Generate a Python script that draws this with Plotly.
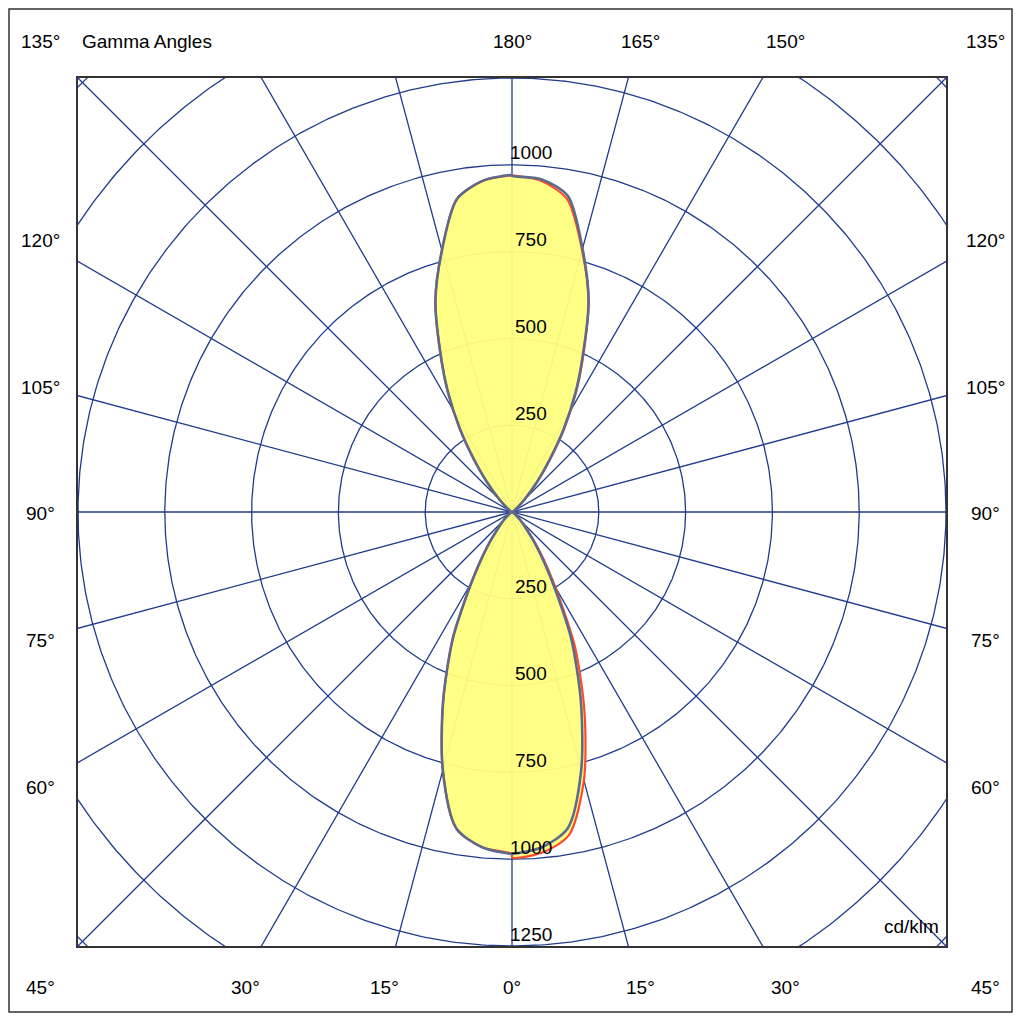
import numpy as np
import plotly.graph_objects as go

# gamma angles (deg from nadir) and intensities (cd/klm)
gamma = [0, 5, 10, 15, 20, 25, 28, 32, 36, 40, 45, 50, 60, 70, 90]
# lower lobe (gamma 0..90), grey C90/C270 and red C0/C180
low_grey = [985, 970, 925, 770, 580, 405, 290, 185, 115, 65, 35, 18, 6, 2, 0]
low_red = [995, 985, 945, 800, 610, 430, 310, 200, 125, 70, 38, 20, 6, 2, 0]
# upper lobe (gamma 180 downwards)
up_grey = [968, 962, 925, 785, 645, 475, 390, 280, 180, 110, 50, 20, 5, 2, 0]
up_red = [970, 958, 915, 780, 645, 480, 395, 285, 185, 112, 52, 20, 5, 2, 0]

rings = [250, 500, 750, 1000, 1250, 1500, 1750]
ring_labels_up = [250, 500, 750, 1000]
ring_labels_down = [250, 500, 750, 1000, 1250]
spokes = list(range(0, 180, 15))

S = 1250 / 434.0  # data units per pixel
OFF = 8  # page body offset
W, H = 1015, 1016
L, T = 70, 70
PW = 868


def lobe(vals_left, vals_right, up):
    g = np.radians(gamma)
    sgn = 1 if up else -1
    xl = -np.array(vals_left) * np.sin(g)
    yl = sgn * np.array(vals_left) * np.cos(g)
    xr = np.array(vals_right) * np.sin(g)
    yr = sgn * np.array(vals_right) * np.cos(g)
    x = np.concatenate([xl[::-1], xr])
    y = np.concatenate([yl[::-1], yr])
    return x, y


fig = go.Figure()
grid = "#1f3c8c"
t = np.linspace(0, 2 * np.pi, 721)
for r in rings:
    fig.add_trace(go.Scatter(x=r * np.cos(t), y=r * np.sin(t), mode="lines",
                             line=dict(color=grid, width=1.3), hoverinfo="skip"))
for a in spokes:
    ar = np.radians(a)
    R = 2000
    fig.add_trace(go.Scatter(x=[-R * np.sin(ar), R * np.sin(ar)], y=[-R * np.cos(ar), R * np.cos(ar)],
                             mode="lines", line=dict(color=grid, width=1.3), hoverinfo="skip"))

for up, grey, red in [(False, low_grey, low_red), (True, up_grey, up_red)]:
    if up:
        xg, yg = lobe(red, grey, up)
        xr, yr = lobe(red, red, up)
    else:
        xg, yg = lobe(grey, grey, up)
        xr, yr = lobe(grey, red, up)
    fig.add_trace(go.Scatter(x=xr, y=yr, mode="lines", fill="toself", fillcolor="rgba(255,255,128,0.95)",
                             line=dict(color="#ff4a2a", width=2.2, shape="spline", smoothing=0.8),
                             hoverinfo="skip"))
    fig.add_trace(go.Scatter(x=xg, y=yg, mode="lines",
                             line=dict(color="#5d6a8c", width=2.6, shape="spline", smoothing=0.8),
                             hoverinfo="skip"))

ann = []
f = dict(family="Liberation Sans, Arial", size=19, color="black")
for v in ring_labels_up:
    ann.append(dict(x=19 * S, y=v + 12 * S, text=str(v), xanchor="center", yanchor="middle", showarrow=False, font=f))
for v in ring_labels_down:
    ann.append(dict(x=19 * S, y=-v + 12 * S, text=str(v), xanchor="center", yanchor="middle", showarrow=False, font=f))


def px(xp, yp):
    # screen pixel -> paper coords
    return (xp - OFF - L) / PW, 1 - (yp - OFF - T) / PW


labels = [("135°", 40, 41), ("180°", 512, 41), ("165°", 640, 41), ("150°", 785, 41), ("135°", 985, 41),
          ("120°", 40, 240), ("105°", 40, 387), ("90°", 40, 513), ("75°", 40, 640), ("60°", 40, 787),
          ("120°", 985, 240), ("105°", 985, 387), ("90°", 985, 513), ("75°", 985, 640), ("60°", 985, 787),
          ("45°", 40, 987), ("30°", 245, 987), ("15°", 384, 987), ("0°", 512, 987), ("15°", 640, 987),
          ("30°", 785, 987), ("45°", 985, 987)]
for txt, xp, yp in labels:
    x, y = px(xp, yp)
    ann.append(dict(x=x, y=y, xref="paper", yref="paper", text=txt, xanchor="center", yanchor="middle",
                    showarrow=False, font=f))
x, y = px(80, 41)
ann.append(dict(x=x, y=y, xref="paper", yref="paper", text="Gamma Angles", xanchor="left", yanchor="middle",
                showarrow=False, font=f))
x, y = px(941, 926)
ann.append(dict(x=x, y=y, xref="paper", yref="paper", text="cd/klm", xanchor="right", yanchor="middle",
                showarrow=False, font=f))

fx0, fy0 = px(9, 1012)
fx1, fy1 = px(1012, 9)
fig.update_layout(
    width=W, height=H, showlegend=False, plot_bgcolor="white", paper_bgcolor="white",
    margin=dict(l=L, r=W - L - PW, t=T, b=H - T - PW), annotations=ann,
    xaxis=dict(range=[-1250, 1250], showgrid=False, zeroline=False, showticklabels=False,
               showline=True, mirror=True, linecolor="#333", linewidth=1.5, fixedrange=True),
    yaxis=dict(range=[-1250, 1250], showgrid=False, zeroline=False, showticklabels=False,
               showline=True, mirror=True, linecolor="#333", linewidth=1.5, fixedrange=True),
    shapes=[dict(type="rect", xref="paper", yref="paper", x0=fx0, x1=fx1, y0=fy0, y1=fy1,
                 line=dict(color="#333", width=1.5))],
)
fig.write_html("out.html")
